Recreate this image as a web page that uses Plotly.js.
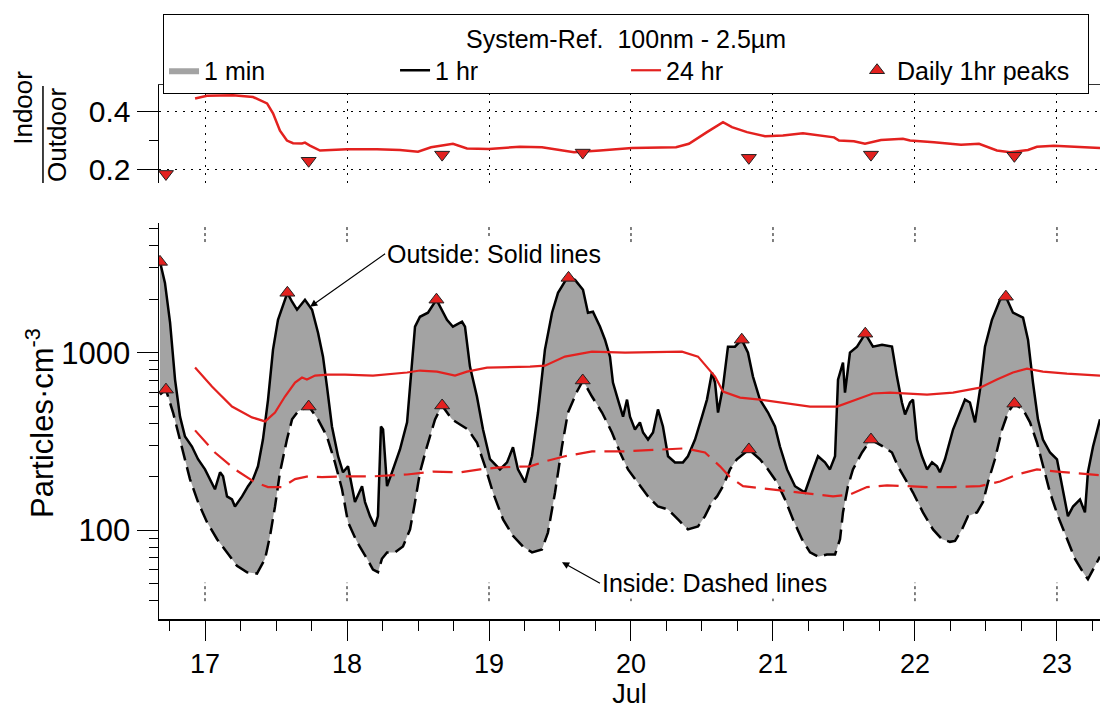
<!DOCTYPE html>
<html>
<head>
<meta charset="utf-8">
<script src="https://cdn.plot.ly/plotly-3.0.1.min.js"></script>
<style>html,body{margin:0;padding:0;background:#fff;}#chart{width:1100px;height:709px;}</style>
</head>
<body>
<div id="chart"></div>
<script>
// ---- Outside, 1 hr mean (day of July, particles/cm3)
const outDay = [16.683,16.718,16.754,16.789,16.824,16.859,16.908,16.951,17.000,17.035,17.070,17.106,17.127,17.155,17.190,17.211,17.261,17.303,17.338,17.373,17.408,17.444,17.479,17.514,17.580,17.613,17.648,17.704,17.754,17.796,17.831,17.859,17.894,17.937,17.972,18.007,18.056,18.106,18.127,18.162,18.197,18.218,18.239,18.254,18.282,18.324,18.373,18.423,18.458,18.479,18.514,18.570,18.630,18.704,18.746,18.810,18.831,18.866,18.915,18.958,19.007,19.077,19.127,19.169,19.204,19.254,19.303,19.345,19.394,19.444,19.486,19.550,19.606,19.662,19.697,19.732,19.782,19.817,19.852,19.873,19.908,19.944,19.972,19.993,20.028,20.063,20.085,20.120,20.155,20.190,20.225,20.261,20.310,20.366,20.401,20.451,20.500,20.535,20.570,20.592,20.613,20.648,20.683,20.732,20.780,20.824,20.859,20.908,20.965,21.014,21.049,21.099,21.155,21.225,21.275,21.317,21.366,21.401,21.437,21.458,21.493,21.507,21.542,21.592,21.650,21.704,21.768,21.838,21.873,21.908,21.930,21.965,21.986,22.014,22.049,22.085,22.120,22.155,22.176,22.211,22.268,22.317,22.352,22.387,22.423,22.458,22.493,22.542,22.599,22.640,22.690,22.761,22.796,22.831,22.866,22.901,22.951,23.000,23.042,23.077,23.113,23.162,23.197,23.218,23.254,23.303];
const outHr = [3245,2472,1475,705,436,337,296,251,220,194,170,212,201,155,149,136,155,177,194,229,324,544,1040,1531,2173,1936,1746,1986,1746,1295,949,644,384,261,212,229,144,177,144,120,105,120,384,369,177,220,285,405,834,1400,1592,1679,1988,1531,1400,1493,1400,834,566,369,251,220,241,293,220,186,261,460,1040,1679,2173,2637,2570,2259,1679,1700,1400,1183,949,678,544,436,544,436,369,405,355,324,355,479,384,261,241,241,261,324,436,544,773,678,460,644,1081,1081,1183,1000,733,544,460,384,296,220,177,163,212,261,241,220,261,705,879,596,1000,1081,1279,1081,1109,1081,733,524,449,524,544,324,261,220,241,229,212,251,369,460,544,524,405,619,1081,1531,1986,2066,1679,1574,1183,678,421,324,274,251,163,120,136,149,126,212,296,421];

// ---- Inside, 1 hr mean
const inDay = [16.683,16.725,16.775,16.838,16.894,16.951,17.014,17.085,17.155,17.225,17.296,17.366,17.423,17.458,17.493,17.528,17.577,17.613,17.655,17.732,17.796,17.859,17.915,17.965,18.007,18.070,18.141,18.183,18.218,18.246,18.282,18.338,18.394,18.444,18.479,18.514,18.563,18.620,18.669,18.739,18.796,18.852,18.915,18.972,19.028,19.099,19.169,19.239,19.303,19.373,19.415,19.465,19.514,19.556,19.620,19.662,19.725,19.796,19.866,19.923,19.979,20.049,20.120,20.190,20.261,20.331,20.401,20.472,20.521,20.570,20.606,20.648,20.697,20.746,20.831,20.908,20.965,21.028,21.085,21.141,21.204,21.261,21.317,21.380,21.437,21.472,21.493,21.528,21.563,21.627,21.690,21.775,21.838,21.880,21.930,21.986,22.056,22.127,22.190,22.246,22.282,22.331,22.373,22.437,22.479,22.514,22.563,22.613,22.655,22.697,22.761,22.810,22.859,22.901,22.951,23.007,23.070,23.127,23.183,23.218,23.254,23.303];
const inHr = [581,619,460,296,194,144,111,89,75,63,58,57,69,93,136,212,324,421,467,497,421,337,241,170,111,86,69,60,58,69,75,75,81,101,144,212,296,421,504,421,394,369,312,229,163,115,93,81,75,78,97,163,296,460,604,697,566,460,355,274,220,186,155,136,131,115,101,105,120,144,155,177,220,251,285,251,220,186,149,115,89,75,71,73,73,89,126,177,220,274,324,296,274,229,194,163,126,101,89,86,87,101,120,126,144,186,251,369,460,516,479,405,312,229,163,120,89,69,58,53,60,71];

// ---- 24 hr running means
const out24Day = [16.930,17.049,17.190,17.331,17.423,17.493,17.563,17.634,17.683,17.718,17.775,17.866,17.986,18.183,18.423,18.514,18.634,18.761,18.845,18.986,19.289,19.394,19.535,19.725,19.958,20.190,20.359,20.472,20.535,20.592,20.648,20.768,20.908,21.070,21.261,21.451,21.592,21.704,21.824,22.085,22.268,22.458,22.577,22.690,22.789,22.901,23.070,23.303];
const out24 = [824,644,497,432,410,460,566,678,724,705,743,752,752,743,773,793,782,743,782,824,834,845,950,1013,1000,1013,1013,950,834,733,604,558,544,524,497,497,544,589,596,581,596,635,705,773,813,782,762,743];
const in24Day = [16.930,17.070,17.211,17.352,17.444,17.542,17.634,17.725,17.824,17.986,18.183,18.423,18.606,18.796,18.937,19.077,19.289,19.394,19.535,19.725,19.958,20.190,20.380,20.521,20.627,20.697,20.789,20.930,21.099,21.261,21.423,21.542,21.662,21.803,22.085,22.268,22.458,22.599,22.718,22.859,23.000,23.303];
const in24 = [365,274,220,186,175,175,194,201,199,201,201,206,214,212,220,226,229,244,261,278,278,285,289,274,229,199,177,172,166,159,155,159,175,179,175,175,177,188,206,220,214,204];

// ---- Daily 1 hr peaks
const peakOutDay = [16.683,17.58,18.63,19.56,20.78,21.65,22.64];
const peakOut = [3245,2173,1988,2637,1183,1279,2066];
const peakInDay = [16.725,17.73,18.67,19.66,20.83,21.69,22.70];
const peakIn = [619,497,504,697,285,324,516];

// ---- Indoor / Outdoor ratio
const ratioDay = [16.930,17.014,17.197,17.338,17.437,17.479,17.528,17.577,17.620,17.683,17.704,17.739,17.810,18.000,18.211,18.373,18.500,18.592,18.746,18.845,19.000,19.218,19.373,19.599,19.782,20.007,20.317,20.408,20.535,20.648,20.711,20.817,20.944,21.070,21.211,21.430,21.465,21.570,21.648,21.761,21.915,21.965,22.134,22.324,22.451,22.577,22.669,22.796,22.859,22.979,23.303];
const ratio24 = [0.444,0.453,0.455,0.449,0.427,0.393,0.334,0.300,0.291,0.290,0.293,0.283,0.266,0.270,0.270,0.268,0.262,0.277,0.289,0.273,0.271,0.279,0.277,0.260,0.266,0.275,0.277,0.289,0.329,0.363,0.346,0.329,0.315,0.317,0.325,0.311,0.300,0.298,0.289,0.302,0.306,0.300,0.294,0.286,0.289,0.266,0.260,0.268,0.279,0.282,0.275];
const ratioPeakDay = [16.725,17.73,18.67,19.66,20.83,21.69,22.70];
const ratioPeak = [0.186,0.231,0.252,0.259,0.241,0.252,0.248];

// ---- tick labels
const dayTicks = [17,18,19,20,21,22,23];
const concTicks = [100,1000];
const concTickText = ['100','1000'];
const concMinor = [40,50,60,70,80,90,200,300,400,500,600,700,800,900,2000,3000,4000,5000];
const ratioTicks = [0.2,0.4];
const ratioTickText = ['0.2','0.4'];
const ratioMinor = [0.3];

const RED = '#e3211f';
const GRAY = '#a3a3a3';
const FONT = 'Liberation Sans, Arial, Helvetica, sans-serif';

const traces = [
  {x: inDay, y: inHr, mode: 'lines', line: {width: 0, color: 'rgba(0,0,0,0)'}, showlegend: false, hoverinfo: 'skip', xaxis: 'x', yaxis: 'y'},
  {x: outDay, y: outHr, mode: 'lines', fill: 'tonexty', fillcolor: GRAY, line: {width: 0, color: GRAY}, name: '1 min', xaxis: 'x', yaxis: 'y'},
  {x: outDay, y: outHr, mode: 'lines', line: {color: '#000', width: 2.5}, name: '1 hr', xaxis: 'x', yaxis: 'y'},
  {x: inDay, y: inHr, mode: 'lines', line: {color: '#000', width: 2.5, dash: '15px,7px'}, showlegend: false, xaxis: 'x', yaxis: 'y'},
  {x: out24Day, y: out24, mode: 'lines', line: {color: RED, width: 2.2}, name: '24 hr', xaxis: 'x', yaxis: 'y'},
  {x: in24Day, y: in24, mode: 'lines', line: {color: RED, width: 2.2, dash: '20px,9px'}, showlegend: false, xaxis: 'x', yaxis: 'y'},
  {x: peakOutDay, y: peakOut, mode: 'markers', marker: {symbol: 'triangle-up', size: 13, color: RED, line: {color: '#222', width: 1}}, name: 'Daily 1hr peaks', xaxis: 'x', yaxis: 'y'},
  {x: peakInDay, y: peakIn, mode: 'markers', marker: {symbol: 'triangle-up', size: 13, color: RED, line: {color: '#222', width: 1}}, showlegend: false, xaxis: 'x', yaxis: 'y'},
  {x: ratioDay, y: ratio24, mode: 'lines', line: {color: RED, width: 2.5}, showlegend: false, xaxis: 'x2', yaxis: 'y2'},
  {x: ratioPeakDay, y: ratioPeak, mode: 'markers', marker: {symbol: 'triangle-down', size: 13, color: RED, line: {color: '#222', width: 1}}, showlegend: false, xaxis: 'x2', yaxis: 'y2'}
];

// short dotted grid marks at top and bottom of the main panel
const shapes = [];
dayTicks.forEach(d => {
  shapes.push({type: 'line', xref: 'x', yref: 'y domain', x0: d, x1: d, y0: 0.952, y1: 0.99, line: {color: '#000', width: 1, dash: 'dot'}});
  shapes.push({type: 'line', xref: 'x', yref: 'y domain', x0: d, x1: d, y0: 0.045, y1: 0.092, line: {color: '#000', width: 1, dash: 'dot'}});
});
// fraction bar in Indoor/Outdoor label
shapes.push({type: 'line', xref: 'paper', yref: 'paper', x0: -0.1233, x1: -0.1233, y0: 0.7207, y1: 0.881, line: {color: '#000', width: 1.5}});

const layout = {
  width: 1100, height: 709,
  margin: {l: 159, r: 0, t: 14, b: 90},
  paper_bgcolor: '#fff', plot_bgcolor: 'rgba(0,0,0,0)',
  font: {family: FONT, color: '#000', size: 24},
  showlegend: true,
  legend: {
    orientation: 'h', x: 0.0043, y: 1, xanchor: 'left', yanchor: 'top',
    bordercolor: '#000', borderwidth: 1, bgcolor: '#fff',
    font: {size: 25, family: FONT},
    title: {text: 'System-Ref.&nbsp; 100nm - 2.5µm', side: 'top center', font: {size: 25, family: FONT}},
    entrywidth: 186, entrywidthmode: 'pixels', traceorder: 'normal', itemwidth: 30,
    tracegroupgap: 0
  },
  xaxis: {
    domain: [0, 1], anchor: 'y', range: [16.676, 23.303],
    tick0: 0, dtick: 1, ticks: 'outside', ticklen: 20, tickwidth: 1, tickcolor: '#000',
    showline: true, linecolor: '#000', linewidth: 1.5, showgrid: false, zeroline: false,
    tickfont: {size: 27},
    minor: {tick0: 0, dtick: 0.25, ticks: 'outside', ticklen: 10, tickwidth: 1, tickcolor: '#000', showgrid: false},
    title: {text: 'Jul', font: {size: 27}, standoff: 6}
  },
  yaxis: {
    domain: [0, 0.6545], anchor: 'x', type: 'log', range: [1.5, 3.73],
    tickmode: 'array', tickvals: concTicks, ticktext: concTickText,
    ticks: 'outside', ticklen: 21, tickwidth: 1, tickcolor: '#000',
    showline: true, linecolor: '#000', linewidth: 1.5, showgrid: false, zeroline: false,
    tickfont: {size: 31},
    minor: {tickmode: 'array', tickvals: concMinor, ticks: 'outside', ticklen: 9, tickwidth: 1, tickcolor: '#000', showgrid: false}
  },
  xaxis2: {
    domain: [0, 1], anchor: 'y2', matches: 'x', side: 'top',
    tick0: 0, dtick: 1, ticks: '', showticklabels: false,
    showline: true, linecolor: '#333', linewidth: 1.5,
    showgrid: true, gridcolor: '#000', gridwidth: 1, griddash: '2px,6px', zeroline: false
  },
  yaxis2: {
    domain: [0.7207, 0.8826], anchor: 'x2', range: [0.155, 0.49],
    tickmode: 'array', tickvals: ratioTicks, ticktext: ratioTickText,
    ticks: 'outside', ticklen: 21, tickwidth: 1, tickcolor: '#000',
    showline: true, linecolor: '#000', linewidth: 1.5,
    showgrid: true, gridcolor: '#000', gridwidth: 1, griddash: '2px,6px', zeroline: false,
    tickfont: {size: 30},
    minor: {tickmode: 'array', tickvals: ratioMinor, ticks: 'outside', ticklen: 9, tickwidth: 1, tickcolor: '#000', showgrid: false}
  },
  shapes: shapes,
  annotations: [
    {xref: 'paper', yref: 'paper', x: -0.1265, y: 0.324, text: 'Particles·cm<sup>-3</sup>', textangle: -90, showarrow: false, xanchor: 'center', yanchor: 'middle', font: {size: 31}},
    {xref: 'paper', yref: 'paper', x: -0.1445, y: 0.845, text: 'Indoor', textangle: -90, showarrow: false, xanchor: 'center', yanchor: 'middle', font: {size: 26}},
    {xref: 'paper', yref: 'paper', x: -0.1085, y: 0.800, text: 'Outdoor', textangle: -90, showarrow: false, xanchor: 'center', yanchor: 'middle', font: {size: 26}},
    {xref: 'x', yref: 'y', x: 17.74, y: 3.258, text: 'Outside: Solid lines', showarrow: true, ax: 75, ay: -53, xanchor: 'left', yanchor: 'middle', arrowhead: 2, arrowsize: 1.2, arrowwidth: 1.2, arrowcolor: '#000', bgcolor: '#fff', font: {size: 25}},
    {xref: 'x', yref: 'y', x: 19.514, y: 1.82, text: 'Inside: Dashed lines', showarrow: true, ax: 38, ay: 21, xanchor: 'left', yanchor: 'middle', arrowhead: 2, arrowsize: 1.2, arrowwidth: 1.2, arrowcolor: '#000', bgcolor: '#fff', font: {size: 25}}
  ]
};

Plotly.newPlot('chart', traces, layout, {displayModeBar: false, staticPlot: true});
</script>
</body>
</html>
